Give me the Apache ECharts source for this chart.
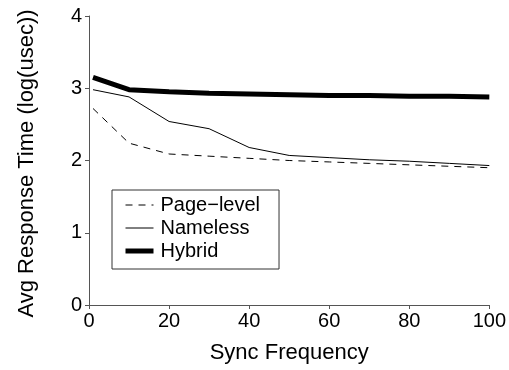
<!DOCTYPE html>
<html>
<head>
<meta charset="utf-8">
<script src="https://cdn.jsdelivr.net/npm/echarts@6/dist/echarts.min.js"></script>
<style>
  html, body { margin: 0; padding: 0; background: #fff; }
  #main { width: 509px; height: 370px; }
</style>
</head>
<body>
<div id="main"></div>
<script>
// sync frequency values (x)
var syncFreq = [1, 10, 20, 30, 40, 50, 60, 70, 80, 90, 100];
// avg response time, log(usec)
var pageLevel = [2.72, 2.24, 2.09, 2.06, 2.03, 2.00, 1.98, 1.96, 1.94, 1.92, 1.90];
var nameless  = [2.98, 2.88, 2.54, 2.44, 2.18, 2.07, 2.04, 2.01, 1.99, 1.96, 1.93];
var hybrid    = [3.15, 2.98, 2.95, 2.93, 2.92, 2.91, 2.90, 2.90, 2.89, 2.89, 2.88];
var seriesNames = ['Page\u2212level', 'Nameless', 'Hybrid'];

function pairs(ys) {
  return syncFreq.map(function (x, i) { return [x, ys[i]]; });
}

var font = 'Liberation Sans, Arial, sans-serif';
var axisColor = '#555';
var dash = [7, 6];

var chart = echarts.init(document.getElementById('main'), null, { renderer: 'canvas' });

var option = {
  animation: false,
  grid: { left: 89, right: 17, top: 16, bottom: 65 },
  legend: {
    orient: 'vertical',
    left: 112,
    top: 190,
    padding: [5, 19, 8, 11],
    itemGap: 3,
    itemWidth: 28,
    itemHeight: 12,
    borderColor: '#333',
    borderWidth: 1,
    borderRadius: 0,
    backgroundColor: '#fff',
    itemStyle: { opacity: 0 },
    textStyle: { fontFamily: font, fontSize: 20, color: '#000', padding: [0, 0, 0, 2] },
    data: [
      { name: seriesNames[0], lineStyle: { width: 1, type: dash, color: '#000' } },
      { name: seriesNames[1], lineStyle: { width: 1, type: 'solid', color: '#000' } },
      { name: seriesNames[2], lineStyle: { width: 5, type: 'solid', color: '#000' } }
    ]
  },
  xAxis: {
    type: 'value',
    min: 0, max: 100, interval: 20,
    name: 'Sync Frequency',
    nameLocation: 'middle',
    nameGap: 37,
    nameTextStyle: { fontFamily: font, fontSize: 22, color: '#000' },
    axisLine: { lineStyle: { color: axisColor, width: 1 } },
    axisTick: { show: true, length: 4, lineStyle: { color: axisColor } },
    axisLabel: { fontFamily: font, fontSize: 20, color: '#000', margin: 6 },
    splitLine: { show: false }
  },
  yAxis: {
    type: 'value',
    min: 0, max: 4, interval: 1,
    name: 'Avg Response Time (log(usec))',
    nameLocation: 'middle',
    nameGap: 51,
    nameTextStyle: { fontFamily: font, fontSize: 22, color: '#000', padding: [0, 6, 0, 0] },
    axisLine: { show: true, lineStyle: { color: axisColor, width: 1 } },
    axisTick: { show: true, length: 4, lineStyle: { color: axisColor } },
    axisLabel: { fontFamily: font, fontSize: 20, color: '#000', margin: 7 },
    splitLine: { show: false }
  },
  series: [
    {
      name: seriesNames[0], type: 'line', symbol: 'none',
      data: pairs(pageLevel),
      lineStyle: { color: '#000', width: 1, type: dash },
      itemStyle: { color: '#000' }
    },
    {
      name: seriesNames[1], type: 'line', symbol: 'none',
      data: pairs(nameless),
      lineStyle: { color: '#000', width: 1 },
      itemStyle: { color: '#000' }
    },
    {
      name: seriesNames[2], type: 'line', symbol: 'none',
      data: pairs(hybrid),
      lineStyle: { color: '#000', width: 5 },
      itemStyle: { color: '#000' }
    }
  ]
};

chart.setOption(option);
</script>
</body>
</html>
